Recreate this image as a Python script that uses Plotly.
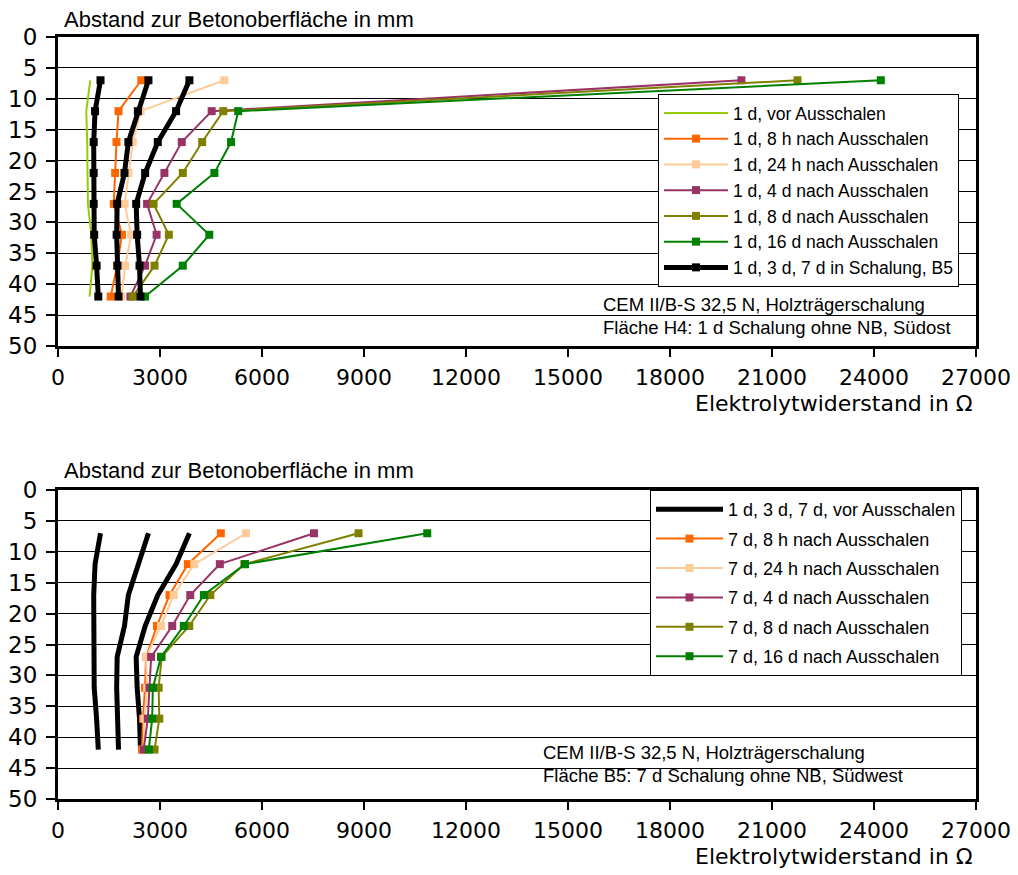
import plotly.graph_objects as go

# ---------------- data ----------------
depth = [7, 12, 17, 22, 27, 32, 37, 42]

# Fläche H4 (top chart)
h4_vor = [950, 830, 860, 860, 880, 980, 1010, 930]
h4_8h = [2450, 1780, 1720, 1680, 1640, 1880, 1740, 1550]
h4_24h = [4890, 2430, 2200, 2070, 1960, 2150, 1980, 1860]
h4_4d = [20100, 4520, 3640, 3130, 2620, 2900, 2560, 2130]
h4_8d = [21750, 4860, 4240, 3670, 2810, 3260, 2840, 2200]
h4_16d = [24200, 5300, 5090, 4600, 3490, 4450, 3670, 2560]

# Fläche B5 in Schalung (1 d, 3 d, 7 d)
b5_1d = [1250, 1090, 1050, 1050, 1050, 1065, 1135, 1185]
b5_3d = [2660, 2350, 2070, 1955, 1740, 1725, 1750, 1780]
b5_7d = [3865, 3473, 2935, 2563, 2299, 2328, 2397, 2426]

# Fläche B5 nach Ausschalen (bottom chart)
b5_8h = [4790, 3820, 3280, 2910, 2590, 2560, 2500, 2470]
b5_24h = [5530, 4010, 3400, 3030, 2590, 2620, 2540, 2520]
b5_4d = [7530, 4760, 3890, 3360, 2740, 2690, 2640, 2520]
b5_8d = [8840, 5480, 4480, 3860, 3050, 2960, 2980, 2840]
b5_16d = [10860, 5500, 4290, 3700, 3030, 2790, 2770, 2670]

x_ticks = [0, 3000, 6000, 9000, 12000, 15000, 18000, 21000, 24000, 27000]
y_ticks = [0, 5, 10, 15, 20, 25, 30, 35, 40, 45, 50]

top_names = ["1 d, vor Ausschalen", "1 d, 8 h nach Ausschalen", "1 d, 24 h nach Ausschalen",
             "1 d, 4 d nach Ausschalen", "1 d, 8 d nach Ausschalen", "1 d, 16 d nach Ausschalen",
             "1 d, 3 d, 7 d in Schalung, B5"]
bot_names = ["1 d, 3 d, 7 d, vor Ausschalen", "7 d, 8 h nach Ausschalen", "7 d, 24 h nach Ausschalen",
             "7 d, 4 d nach Ausschalen", "7 d, 8 d nach Ausschalen", "7 d, 16 d nach Ausschalen"]

C_LGREEN = "#99CC00"
C_ORANGE = "#FF6600"
C_PEACH = "#FFCC99"
C_PURPLE = "#993366"
C_OLIVE = "#808000"
C_GREEN = "#008000"

FONT = "Liberation Sans, Arial, sans-serif"
WIDE = "DejaVu Sans, Liberation Sans, sans-serif"

fig = go.Figure()

def colored(x, name, color, xa, ya, legend, markers=True, group=None):
    fig.add_trace(go.Scatter(
        x=x, y=depth, name=name, xaxis=xa, yaxis=ya, legend=legend,
        legendgroup=group or name,
        mode="lines+markers" if markers else "lines",
        line=dict(color=color, width=2),
        marker=dict(symbol="square", size=8, color=color),
    ))

# ---- top chart ----
colored(h4_vor, top_names[0], C_LGREEN, "x", "y", "legend", markers=False)
colored(h4_8h, top_names[1], C_ORANGE, "x", "y", "legend")
colored(h4_24h, top_names[2], C_PEACH, "x", "y", "legend")
colored(h4_4d, top_names[3], C_PURPLE, "x", "y", "legend")
colored(h4_8d, top_names[4], C_OLIVE, "x", "y", "legend")
colored(h4_16d, top_names[5], C_GREEN, "x", "y", "legend")
for i, s in enumerate([b5_1d, b5_3d, b5_7d]):
    fig.add_trace(go.Scatter(
        x=s, y=depth, name=top_names[6], xaxis="x", yaxis="y", legend="legend",
        legendgroup="topblack", showlegend=(i == 0), mode="lines+markers",
        line=dict(color="black", width=5), marker=dict(symbol="square", size=8, color="black"),
    ))

# ---- bottom chart ----
for i, s in enumerate([b5_1d, b5_3d, b5_7d]):
    fig.add_trace(go.Scatter(
        x=s, y=depth, name=bot_names[0], xaxis="x2", yaxis="y2", legend="legend2",
        legendgroup="botblack", showlegend=(i == 0), mode="lines",
        line=dict(color="black", width=5),
    ))
colored(b5_8h, bot_names[1], C_ORANGE, "x2", "y2", "legend2")
colored(b5_24h, bot_names[2], C_PEACH, "x2", "y2", "legend2")
colored(b5_4d, bot_names[3], C_PURPLE, "x2", "y2", "legend2")
colored(b5_8d, bot_names[4], C_OLIVE, "x2", "y2", "legend2")
colored(b5_16d, bot_names[5], C_GREEN, "x2", "y2", "legend2")

W, H = 1018, 875
ML, MR = 58, 42
MT, MB = 37, 76
PW = W - ML - MR
PH = H - MT - MB

def px(pix):
    return (pix - ML) / PW

def py(pix):
    return 1 - (pix - MT) / PH

xa = dict(range=[0, 27000], tickvals=x_ticks, ticktext=[str(v) for v in x_ticks],
          showgrid=False, zeroline=False, showline=True, mirror=True, linecolor="black",
          linewidth=3, ticks="outside", ticklen=8, tickwidth=2, tickcolor="black",
          tickfont=dict(size=22, color="black", family=WIDE), ticklabelstandoff=2,
          automargin=False)
ya = dict(range=[50, 0], tickvals=y_ticks, ticktext=[str(v) for v in y_ticks],
          showgrid=True, gridcolor="black", gridwidth=1, zeroline=False, showline=True,
          mirror=True, linecolor="black", linewidth=3, ticks="outside", ticklen=9,
          tickwidth=2, tickcolor="black", tickfont=dict(size=23, color="black", family=WIDE),
          ticklabelstandoff=4, automargin=False)

legend_common = dict(bgcolor="white", bordercolor="black", borderwidth=1,
                     color=None, xanchor="left", yanchor="top", itemclick=False)
legend_common.pop("color")

fig.update_layout(
    width=W, height=H,
    margin=dict(l=ML, r=MR, t=MT, b=MB),
    paper_bgcolor="white", plot_bgcolor="white",
    font=dict(family=FONT, color="black"),
    xaxis=dict(xa, domain=[0, 1], anchor="y"),
    yaxis=dict(ya, domain=[py(346), 1], anchor="x"),
    xaxis2=dict(xa, domain=[0, 1], anchor="y2"),
    yaxis2=dict(ya, domain=[0, py(490)], anchor="x2"),
    legend=dict(legend_common, x=px(658), y=py(94), tracegroupgap=0, itemwidth=64,
                font=dict(size=17.5, color="black", family=FONT)),
    legend2=dict(legend_common, x=px(650), y=py(490), tracegroupgap=3, itemwidth=67,
                 font=dict(size=18, color="black", family=FONT)),
    showlegend=True,
)

def ann(text, xpix, ypix, size, xanchor="left", family=FONT):
    fig.add_annotation(text=text, xref="paper", yref="paper", x=px(xpix), y=py(ypix),
                       xanchor=xanchor, yanchor="middle", showarrow=False,
                       font=dict(size=size, color="black", family=family))

ann("Abstand zur Betonoberfläche in mm", 62, 19, 22)
ann("Abstand zur Betonoberfläche in mm", 62, 470, 22)
ann("Elektrolytwiderstand in Ω", 975, 404, 22, "right", WIDE)
ann("Elektrolytwiderstand in Ω", 975, 856, 22, "right", WIDE)
ann("CEM II/B-S 32,5 N, Holzträgerschalung", 601, 304, 18.5)
ann("Fläche H4: 1 d Schalung ohne NB, Südost", 601, 327, 18.5)
ann("CEM II/B-S 32,5 N, Holzträgerschalung", 541, 752, 18.5)
ann("Fläche B5: 7 d Schalung ohne NB, Südwest", 541, 775, 18.5)

fig.write_html("out.html")
